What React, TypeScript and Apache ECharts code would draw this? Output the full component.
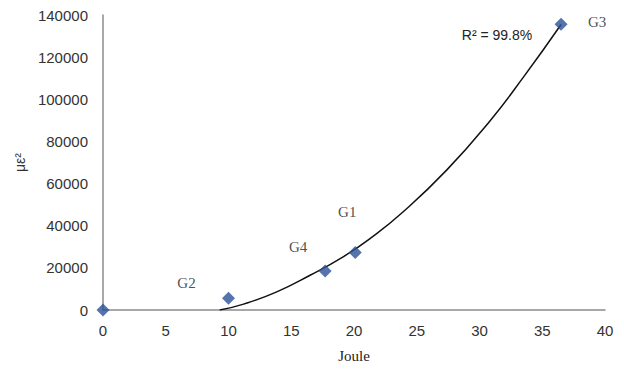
import React, { useEffect, useRef } from "react";
import * as echarts from "echarts";

const pointNames = ["", "G2", "G4", "G1", "G3"];
const joule = [0, 10, 17.7, 20.1, 36.5];
const strain = [0, 5600, 18500, 27300, 135600];
const labelOffsets = [
  [0, 0],
  [-42, -15],
  [-27, -24],
  [-8, -40],
  [36, -2],
];

const trendX = [9.3, 11.2, 13.8, 16.5, 19.2, 21.3, 23.9, 27.4, 30.8, 33.5, 36.5];
const trendY = [0, 2800, 8500, 16500, 25500, 34000, 46500, 66500, 89500, 110500, 135500];

const rSquaredText = "R² = 99.8%";
const xTicks = { min: 0, max: 40, interval: 5 };
const yTicks = { min: 0, max: 140000, interval: 20000 };

export default function App() {
  const ref = useRef<HTMLDivElement>(null);
  useEffect(() => {
    document.body.style.margin = "0";
    if (!ref.current) return;
    const chart = echarts.init(ref.current, null, { renderer: "svg" });
    const sans = "'Liberation Sans', Arial, sans-serif";
    const serif = "'Liberation Serif', 'Times New Roman', serif";
    chart.setOption({
      animation: false,
      backgroundColor: "#ffffff",
      grid: { left: 103, right: 19, top: 15, bottom: 60, containLabel: false },
      xAxis: {
        type: "value",
        min: xTicks.min,
        max: xTicks.max,
        interval: xTicks.interval,
        name: "Joule",
        nameLocation: "middle",
        nameGap: 38,
        nameTextStyle: { fontFamily: serif, fontSize: 15, color: "#222" },
        axisLine: { show: true, lineStyle: { color: "#8c8c8c", width: 1.5 } },
        axisTick: { show: false },
        splitLine: { show: false },
        axisLabel: { fontFamily: sans, fontSize: 15, color: "#333", margin: 13 },
      },
      yAxis: {
        type: "value",
        min: yTicks.min,
        max: yTicks.max,
        interval: yTicks.interval,
        name: "με²",
        nameLocation: "middle",
        nameGap: 66,
        nameRotate: 90,
        nameTextStyle: { fontFamily: sans, fontSize: 14, color: "#333" },
        axisLine: { show: true, lineStyle: { color: "#8c8c8c", width: 1.5 } },
        axisTick: { show: false },
        splitLine: { show: false },
        axisLabel: {
          fontFamily: sans,
          fontSize: 15,
          color: "#333",
          margin: 15,
          formatter: (v: number) => String(v),
        },
      },
      series: [
        {
          type: "line",
          data: trendX.map((x, i) => [x, trendY[i]]),
          smooth: true,
          showSymbol: false,
          symbol: "none",
          lineStyle: { color: "#111", width: 1.5 },
          z: 2,
        },
        {
          type: "scatter",
          symbol: "diamond",
          symbolSize: 13,
          itemStyle: { color: "#2a5197" },
          data: joule.map((x, i) => ({
            value: [x, strain[i]],
            name: pointNames[i],
            label: {
              show: pointNames[i] !== "",
              formatter: pointNames[i],
              position: "inside",
              offset: labelOffsets[i],
              fontFamily: serif,
              fontSize: 15,
              color: "#222",
            },
          })),
          z: 3,
        },
      ],
      graphic: [
        {
          type: "text",
          x: 497,
          y: 35,
          style: {
            text: rSquaredText,
            fontFamily: sans,
            fontSize: 14,
            fill: "#222",
            align: "center",
            verticalAlign: "middle",
          },
        },
      ],
    });
    return () => chart.dispose();
  }, []);
  return <div ref={ref} style={{ width: 624, height: 370 }} />;
}
